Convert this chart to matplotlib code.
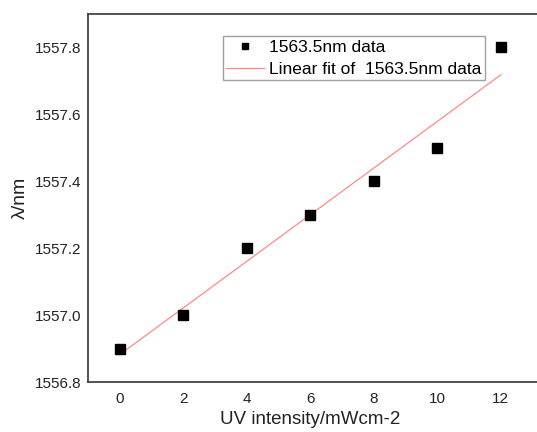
import numpy as np
import matplotlib
matplotlib.use('Agg')
import matplotlib.pyplot as plt

plt.rcParams['font.family'] = ['Liberation Sans', 'DejaVu Sans']

# data
uv = [0, 2, 4, 6, 8, 10, 12]
wl = [1556.9, 1557.0, 1557.2, 1557.3, 1557.4, 1557.5, 1557.8]
xticks = [0, 2, 4, 6, 8, 10, 12]
yticks = [1556.8, 1557.0, 1557.2, 1557.4, 1557.6, 1557.8]

k, b = np.polyfit(uv, wl, 1)
fit = [k * x + b for x in uv]

fig = plt.figure(figsize=(5.37, 4.32), dpi=100)
ax = fig.add_axes([0.1639, 0.1157, 0.857, 0.852])

ax.plot(uv, wl, 's', color='black', markersize=6.5, label='1563.5nm data', zorder=3)
ax.plot(uv, fit, '-', color='#ff8a8a', linewidth=0.9, label='Linear fit of  1563.5nm data')

ax.set_xlim(-1, 13.5)
ax.set_ylim(1556.8, 1557.9)
ax.set_xticks(xticks)
ax.set_yticks(yticks)
ax.set_yticklabels(['%.1f' % v for v in yticks])
ax.tick_params(length=0, labelsize=11, colors='#222222')
ax.tick_params(axis='x', pad=7)
ax.tick_params(axis='y', pad=5)
for s in ax.spines.values():
	s.set_color('#444444')
	s.set_linewidth(1.3)

ax.set_xlabel('UV intensity/mWcm-2', fontsize=13.5, color='#222222')
ax.xaxis.set_label_coords(0.482, -0.103, transform=ax.transAxes)
ax.xaxis.label.set_va('center')
ax.set_ylabel('λ/nm', fontsize=14, color='#222222')
ax.yaxis.set_label_coords(-0.148, 0.5, transform=ax.transAxes)
ax.yaxis.label.set_va('center')

leg = ax.legend(loc='upper left', bbox_to_anchor=(0.293, 0.94), borderaxespad=0,
	fontsize=12.5, fancybox=False, frameon=True, markerscale=0.7,
	handlelength=2.15, handletextpad=0.3, labelspacing=0.4, borderpad=0.2)
leg.get_frame().set_edgecolor('#888888')
leg.get_frame().set_linewidth(1.0)

fig.savefig('out.png', dpi=100)
